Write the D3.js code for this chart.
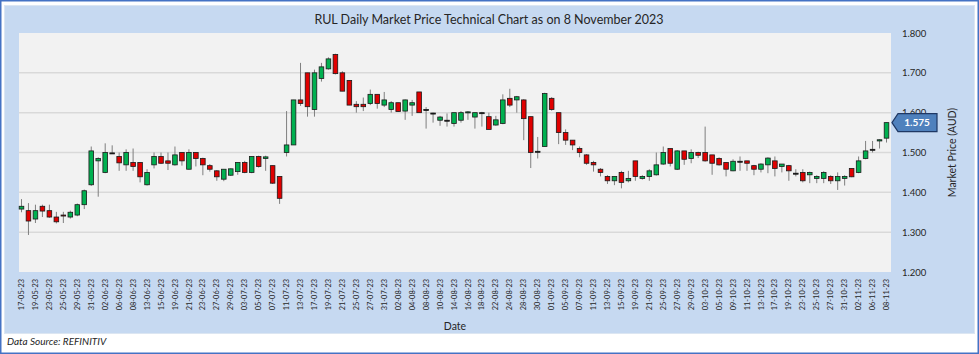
<!DOCTYPE html>
<html>
<head>
<meta charset="utf-8">
<script src="https://cdn.jsdelivr.net/npm/d3@7/dist/d3.min.js"></script>
<style>
  body { margin: 0; background: #fff; }
  text { font-family: Lato, "Open Sans", sans-serif; fill: #262626; }
</style>
</head>
<body>
<script>
// trading days shown on the chart (dd-mm-yy)
var dates = [
  "17-05-23","18-05-23","19-05-23","22-05-23","23-05-23","24-05-23","25-05-23","26-05-23","29-05-23","30-05-23","31-05-23",
  "01-06-23","02-06-23","05-06-23","06-06-23","07-06-23","08-06-23","09-06-23","13-06-23","14-06-23","15-06-23","16-06-23",
  "19-06-23","20-06-23","21-06-23","22-06-23","23-06-23","26-06-23","27-06-23","28-06-23","29-06-23","30-06-23",
  "03-07-23","04-07-23","05-07-23","06-07-23","07-07-23","10-07-23","11-07-23","12-07-23","13-07-23","14-07-23",
  "17-07-23","18-07-23","19-07-23","20-07-23","21-07-23","24-07-23","25-07-23","26-07-23","27-07-23","28-07-23","31-07-23",
  "01-08-23","02-08-23","03-08-23","04-08-23","07-08-23","08-08-23","09-08-23","10-08-23","11-08-23","14-08-23","15-08-23",
  "16-08-23","17-08-23","18-08-23","21-08-23","22-08-23","23-08-23","24-08-23","25-08-23","28-08-23","29-08-23","30-08-23","31-08-23",
  "01-09-23","04-09-23","05-09-23","06-09-23","07-09-23","08-09-23","11-09-23","12-09-23","13-09-23","14-09-23","15-09-23",
  "18-09-23","19-09-23","20-09-23","21-09-23","22-09-23","25-09-23","26-09-23","27-09-23","28-09-23","29-09-23",
  "02-10-23","03-10-23","04-10-23","05-10-23","06-10-23","09-10-23","10-10-23","11-10-23","12-10-23","13-10-23",
  "16-10-23","17-10-23","18-10-23","19-10-23","20-10-23","23-10-23","24-10-23","25-10-23","26-10-23","27-10-23","30-10-23","31-10-23",
  "01-11-23","02-11-23","03-11-23","06-11-23","07-11-23","08-11-23"
];

// daily prices (AUD)
var open = [
  1.358,1.354,1.333,1.365,1.354,1.338,1.343,1.338,1.343,1.369,1.419,1.479,1.450,1.499,1.490,1.469,1.475,1.475,1.419,1.469,
  1.490,1.479,1.469,1.500,1.458,1.500,1.485,1.467,1.454,1.433,1.443,1.452,1.475,1.450,1.490,1.485,1.467,1.440,1.500,1.519,
  1.632,1.700,1.608,1.686,1.710,1.746,1.700,1.681,1.621,1.621,1.623,1.646,1.619,1.608,1.625,1.604,1.619,1.652,1.608,1.599,
  1.581,1.581,1.573,1.581,1.600,1.589,1.600,1.590,1.569,1.573,1.636,1.632,1.632,1.590,1.503,1.515,1.636,1.600,1.550,1.531,
  1.510,1.494,1.475,1.458,1.440,1.429,1.450,1.429,1.479,1.435,1.440,1.444,1.471,1.510,1.458,1.504,1.485,1.500,1.500,1.494,
  1.485,1.475,1.454,1.478,1.479,1.467,1.458,1.469,1.479,1.465,1.467,1.448,1.450,1.444,1.435,1.435,1.440,1.429,1.435,1.460,
  1.450,1.485,1.508,1.529,1.536
];
var high = [
  1.383,1.373,1.369,1.369,1.369,1.351,1.351,1.354,1.372,1.407,1.515,1.488,1.523,1.518,1.500,1.508,1.510,1.475,1.458,1.500,
  1.500,1.500,1.515,1.500,1.508,1.500,1.487,1.471,1.456,1.458,1.460,1.475,1.479,1.490,1.492,1.492,1.467,1.440,1.604,1.632,
  1.725,1.700,1.708,1.725,1.739,1.748,1.704,1.681,1.629,1.638,1.658,1.646,1.652,1.629,1.625,1.633,1.632,1.652,1.614,1.600,
  1.592,1.598,1.600,1.604,1.604,1.600,1.602,1.600,1.592,1.646,1.660,1.642,1.634,1.590,1.539,1.650,1.639,1.600,1.558,1.531,
  1.515,1.496,1.479,1.461,1.443,1.440,1.454,1.454,1.479,1.443,1.458,1.500,1.515,1.510,1.506,1.504,1.508,1.502,1.565,1.494,
  1.488,1.475,1.483,1.490,1.479,1.469,1.473,1.488,1.490,1.471,1.469,1.458,1.458,1.452,1.443,1.453,1.443,1.450,1.443,1.460,
  1.490,1.529,1.529,1.533,1.575
];
var low = [
  1.350,1.293,1.323,1.338,1.336,1.322,1.323,1.334,1.340,1.358,1.416,1.389,1.448,1.497,1.454,1.454,1.454,1.425,1.417,1.460,
  1.471,1.456,1.467,1.467,1.457,1.465,1.443,1.452,1.429,1.428,1.441,1.444,1.448,1.448,1.462,1.454,1.421,1.371,1.490,1.519,
  1.617,1.590,1.590,1.678,1.708,1.696,1.654,1.619,1.600,1.604,1.619,1.610,1.614,1.600,1.602,1.582,1.592,1.600,1.560,1.575,
  1.567,1.565,1.565,1.575,1.582,1.560,1.565,1.558,1.567,1.571,1.614,1.600,1.531,1.461,1.485,1.515,1.605,1.521,1.519,1.506,
  1.488,1.469,1.452,1.440,1.421,1.418,1.410,1.425,1.429,1.432,1.429,1.442,1.469,1.465,1.456,1.469,1.473,1.486,1.477,1.444,
  1.467,1.440,1.453,1.454,1.454,1.443,1.450,1.448,1.440,1.450,1.429,1.440,1.425,1.423,1.423,1.423,1.421,1.406,1.417,1.438,
  1.448,1.483,1.500,1.510,1.525
];
var close = [
  1.365,1.328,1.354,1.353,1.338,1.326,1.342,1.350,1.369,1.404,1.504,1.485,1.500,1.499,1.474,1.500,1.465,1.439,1.450,1.490,
  1.473,1.473,1.494,1.479,1.500,1.485,1.469,1.458,1.439,1.458,1.459,1.475,1.450,1.490,1.465,1.489,1.423,1.385,1.519,1.632,
  1.623,1.615,1.700,1.715,1.735,1.698,1.654,1.619,1.615,1.615,1.646,1.623,1.632,1.625,1.603,1.632,1.625,1.600,1.608,1.599,
  1.589,1.581,1.600,1.600,1.602,1.600,1.600,1.558,1.582,1.632,1.619,1.640,1.585,1.500,1.503,1.648,1.608,1.550,1.531,1.519,
  1.500,1.473,1.469,1.450,1.429,1.440,1.425,1.435,1.440,1.440,1.454,1.469,1.500,1.473,1.504,1.483,1.500,1.493,1.479,1.473,
  1.469,1.458,1.478,1.478,1.473,1.458,1.471,1.486,1.460,1.471,1.454,1.448,1.429,1.450,1.440,1.450,1.429,1.440,1.440,1.439,
  1.479,1.504,1.508,1.532,1.575
];

var yTicks = [1.2, 1.3, 1.4, 1.5, 1.6, 1.7, 1.8];
var lastPrice = 1.575;

var width = 979, height = 354;
var plot = {left: 19, right: 891, top: 33, bottom: 272};

var data = dates.map(function(d, i) {
  return {date: d, o: open[i], h: high[i], l: low[i], c: close[i]};
});

var svg = d3.select("body").append("svg")
    .attr("width", width)
    .attr("height", height);

// outer frame + light blue chart panel
svg.append("rect")
    .attr("x", 0.75).attr("y", 0.75)
    .attr("width", width - 1.5).attr("height", height - 1.5)
    .attr("fill", "#fff")
    .attr("stroke", "#4472C4")
    .attr("stroke-width", 1.5);

svg.append("rect")
    .attr("x", 4.5).attr("y", 5.5)
    .attr("width", 970).attr("height", 328)
    .attr("fill", "#C6D9F1")
    .attr("stroke", "#DCE6F2");

svg.append("rect")
    .attr("x", plot.left).attr("y", plot.top)
    .attr("width", plot.right - plot.left).attr("height", plot.bottom - plot.top)
    .attr("fill", "#F2F2F2");

var x = d3.scaleBand().domain(d3.range(data.length)).range([18, 890]);
var y = d3.scaleLinear().domain([1.2, 1.8]).range([plot.bottom, plot.top]);

// gridlines
svg.append("g").selectAll("line")
    .data(yTicks.slice(1, -1))
  .enter().append("line")
    .attr("x1", plot.left).attr("x2", plot.right)
    .attr("y1", function(d) { return y(d); })
    .attr("y2", function(d) { return y(d); })
    .attr("stroke", "#D9D9D9")
    .attr("stroke-width", 1.5);

// right price axis
var yAxis = d3.axisRight(y).tickValues(yTicks).tickFormat(d3.format(".3f")).tickSize(0).tickPadding(11);
svg.append("g")
    .attr("transform", "translate(" + plot.right + ",0)")
    .call(yAxis)
    .call(function(g) { g.select(".domain").remove(); })
    .selectAll("text")
    .style("font-family", "Lato, sans-serif")
    .style("font-size", "9.5px")
    .attr("fill", "#262626");

// date axis, every second trading day
var xAxis = d3.axisBottom(x)
    .tickValues(d3.range(0, data.length, 2))
    .tickFormat(function(i) { return dates[i]; })
    .tickSize(0);
svg.append("g")
    .attr("transform", "translate(0," + plot.bottom + ")")
    .call(xAxis)
    .call(function(g) { g.select(".domain").remove(); })
    .selectAll("text")
    .attr("transform", "rotate(-90)")
    .attr("x", -7)
    .attr("y", 0)
    .attr("dy", "0.35em")
    .style("text-anchor", "end")
    .style("font-family", "Lato, sans-serif")
    .style("font-size", "7.4px")
    .attr("fill", "#1a1a1a");

// candles
var bodyW = 4.6;
var candle = svg.append("g").selectAll("g")
    .data(data)
  .enter().append("g")
    .attr("transform", function(d, i) { return "translate(" + (x(i) + x.bandwidth() / 2) + ",0)"; });

candle.append("line")
    .attr("y1", function(d) { return y(d.h); })
    .attr("y2", function(d) { return y(d.l); })
    .attr("stroke", "#7F7F7F")
    .attr("stroke-width", 1);

candle.append("rect")
    .attr("x", -bodyW / 2)
    .attr("width", bodyW)
    .attr("y", function(d) { return y(Math.max(d.o, d.c)); })
    .attr("height", function(d) { return Math.max(1, Math.abs(y(d.o) - y(d.c))); })
    .attr("fill", function(d) { return d.c > d.o ? "#00B050" : d.c < d.o ? "#E00000" : "#000"; })
    .attr("stroke", "#1A1A1A")
    .attr("stroke-width", 0.8);

// last price tag (sits over the 1.600 label, as in the original)
var ty = y(lastPrice);
svg.append("path")
    .attr("d", "M" + (plot.right + 1) + "," + ty +
               "L" + (plot.right + 7) + "," + (ty - 9) +
               "L" + (plot.right + 46) + "," + (ty - 9) +
               "L" + (plot.right + 46) + "," + (ty + 9) +
               "L" + (plot.right + 7) + "," + (ty + 9) + "Z")
    .attr("fill", "#4F81BD")
    .attr("stroke", "#1F3864")
    .attr("stroke-width", 1.2);
svg.append("text")
    .attr("x", plot.right + 26).attr("y", ty)
    .attr("dy", "0.35em")
    .attr("text-anchor", "middle")
    .style("font-size", "10px")
    .style("font-weight", "bold")
    .style("fill", "#fff")
    .text(d3.format(".3f")(lastPrice));

// titles
svg.append("text")
    .attr("x", 489).attr("y", 24)
    .attr("text-anchor", "middle")
    .style("font-size", "12.5px")
    .text("RUL Daily Market Price Technical Chart as on 8 November 2023");

svg.append("text")
    .attr("transform", "translate(956," + ((plot.top + plot.bottom) / 2) + ")rotate(-90)")
    .attr("text-anchor", "middle")
    .style("font-size", "10.5px")
    .text("Market Price (AUD)");

svg.append("text")
    .attr("x", (plot.left + plot.right) / 2).attr("y", 330)
    .attr("text-anchor", "middle")
    .style("font-size", "10.5px")
    .text("Date");

svg.append("text")
    .attr("x", 7).attr("y", 345)
    .style("font-size", "10px")
    .style("font-style", "italic")
    .text("Data Source: REFINITIV");
</script>
</body>
</html>
